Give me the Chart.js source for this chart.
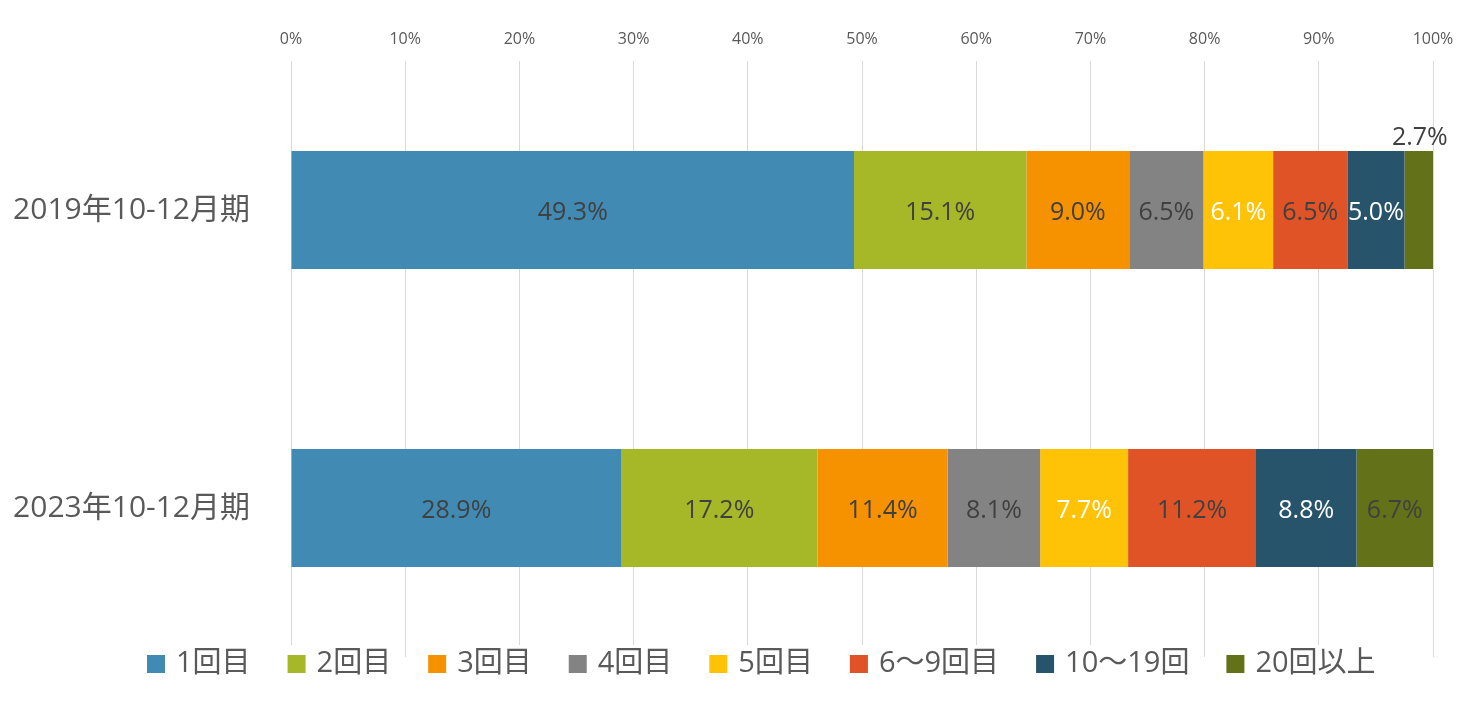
<!DOCTYPE html>
<html>
<head>
<meta charset="utf-8">
<script src="https://cdn.jsdelivr.net/npm/chart.js@4.4.0/dist/chart.umd.min.js"></script>
<style>
  html, body { margin: 0; padding: 0; background: #fff; }
</style>
</head>
<body>
<canvas id="chart" width="1477" height="705"></canvas>
<script>
// Categories and series
const periods = ['2019年10-12月期', '2023年10-12月期'];
const seriesNames = ['1回目', '2回目', '3回目', '4回目', '5回目', '6～9回目', '10～19回', '20回以上'];

// Share of each series per period (%)
const values2019 = [49.3, 15.1, 9.0, 6.5, 6.1, 6.5, 5.0, 2.7];
const values2023 = [28.9, 17.2, 11.4, 8.1, 7.7, 11.2, 8.8, 6.7];

// Axis ticks
const xTicks = [0, 10, 20, 30, 40, 50, 60, 70, 80, 90, 100];

const seriesColors = ['#418AB3', '#A6B727', '#F69200', '#838383', '#FEC306', '#DF5327', '#28546B', '#637118'];
const labelColors = ['#404040', '#404040', '#404040', '#404040', '#ffffff', '#404040', '#ffffff', '#404040'];

const FONT = "'Open Sans', 'Noto Sans CJK JP', sans-serif";
Chart.defaults.font.family = FONT;

const datasets = seriesNames.map((name, i) => ({
    label: name,
    data: [values2019[i], values2023[i]],
    backgroundColor: seriesColors[i],
    borderWidth: 0,
    categoryPercentage: 1,
    barPercentage: 0.396
}));

// Value labels inside (or above, if too narrow) each segment
const valueLabels = {
    id: 'valueLabels',
    afterDatasetsDraw(chart) {
        const ctx = chart.ctx;
        ctx.save();
        ctx.font = '25px ' + FONT;
        ctx.textAlign = 'center';
        ctx.textBaseline = 'middle';
        chart.data.datasets.forEach((ds, i) => {
            const meta = chart.getDatasetMeta(i);
            meta.data.forEach((bar, j) => {
                const v = ds.data[j];
                const text = v.toFixed(1) + '%';
                const cx = (bar.x + bar.base) / 2;
                if (v < 4) {
                    ctx.fillStyle = '#404040';
                    ctx.fillText(text, cx, bar.y - bar.height / 2 - 13);
                } else {
                    ctx.fillStyle = labelColors[i];
                    ctx.fillText(text, cx, bar.y + 3);
                }
            });
        });
        ctx.restore();
    }
};

// Legend drawn along the bottom, over the grid lines like the original
const bottomLegend = {
    id: 'bottomLegend',
    afterDraw(chart) {
        const ctx = chart.ctx;
        ctx.save();
        ctx.font = '29px ' + FONT;
        ctx.textBaseline = 'middle';
        let x = 147;
        const y = 663;
        chart.data.datasets.forEach(ds => {
            const w = ctx.measureText(ds.label).width;
            ctx.fillStyle = '#ffffff';
            ctx.fillRect(x - 4, y - 18, 18 + 11 + w + 8, 36);
            ctx.fillStyle = ds.backgroundColor;
            ctx.fillRect(x, y - 8, 18, 18);
            ctx.fillStyle = '#595959';
            ctx.fillText(ds.label, x + 29, y + 1);
            x += 29 + w + 37;
        });
        ctx.restore();
    }
};

new Chart(document.getElementById('chart').getContext('2d'), {
    type: 'bar',
    data: { labels: periods, datasets: datasets },
    options: {
        indexAxis: 'y',
        responsive: false,
        animation: false,
        layout: { padding: { left: 0, right: 44, top: 0, bottom: 48 } },
        plugins: {
            legend: { display: false },
            tooltip: { enabled: false }
        },
        scales: {
            x: {
                stacked: true,
                position: 'top',
                min: 0,
                max: 100,
                afterBuildTicks: scale => { scale.ticks = xTicks.map(v => ({ value: v })); },
                afterFit: scale => { scale.height = 61; },
                ticks: {
                    callback: v => v + '%',
                    color: '#595959',
                    font: { size: 16 },
                    padding: 12,
                    maxRotation: 0
                },
                grid: { color: '#d9d9d9', lineWidth: 1, drawTicks: false },
                border: { display: false }
            },
            y: {
                stacked: true,
                afterFit: scale => {
                    scale.width = 291;
                    scale.paddingTop = 0;
                    scale.paddingBottom = 0;
                },
                ticks: {
                    color: '#595959',
                    font: { size: 30 },
                    padding: 33
                },
                grid: { display: false },
                border: { display: false }
            }
        }
    },
    plugins: [valueLabels, bottomLegend]
});
</script>
</body>
</html>
